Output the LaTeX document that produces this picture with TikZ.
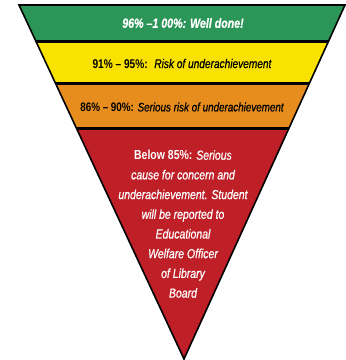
\documentclass[tikz,border=0pt]{standalone}
\usepackage{fontspec}
\newfontfamily\cond[FakeStretch=0.8,ItalicFeatures={FakeBold=0.6},BoldItalicFeatures={FakeBold=0.5}]{Liberation Sans}
\definecolor{bgreen}{RGB}{44,150,88}
\definecolor{byellow}{RGB}{250,226,0}
\definecolor{borange}{RGB}{230,141,30}
\definecolor{bred}{RGB}{191,32,40}
\tikzset{
  bandtext/.style={inner sep=0pt, anchor=center},
  redtext/.style={font=\cond\itshape\fontsize{13.1}{19.7}\selectfont, text=white, align=center, inner sep=0pt, anchor=north}
}
\begin{document}
\begin{tikzpicture}[x=1pt,y=-1pt]
\useasboundingbox (0,0) rectangle (346,360);
\coordinate (tl) at (19,5);
\coordinate (tr) at (345,5);
\coordinate (ap) at (184,359);
\begin{scope}
  \clip (tl) -- (tr) -- (ap) -- cycle;
  \fill[bgreen] (0,0) rectangle (346,41.5);
  \fill[byellow] (0,41.5) rectangle (346,83.5);
  \fill[borange] (0,83.5) rectangle (346,128.5);
  \fill[bred] (0,128.5) rectangle (346,360);
  \draw[line width=3pt] (0,41.5) -- (346,41.5);
  \draw[line width=3pt] (0,83.5) -- (346,83.5);
  \draw[line width=3pt] (0,128.5) -- (346,128.5);
\end{scope}
\draw[line width=1.6pt, line join=miter] (tl) -- (tr) -- (ap) -- cycle;
\node[bandtext, text=white, font=\cond\fontsize{13.3}{15}\selectfont] (g) at (183,23) {\bfseries\itshape 96\% –1 00\%: Well done!};
\node[bandtext, font=\cond\fontsize{12.66}{15}\selectfont] (y) at (182,63.5) {{\bfseries 91\% – 95\%:} \ {\itshape Risk of underachievement}};
\node[bandtext, font=\cond\fontsize{12.3}{15}\selectfont] (o) at (182,107) {{\bfseries 86\% – 90\%:} {\itshape Serious risk of underachievement}};
\node[redtext] (r) at (183,150) {{\upshape\bfseries Below 85\%:} Serious\\
cause for concern and\\
underachievement. Student\\
will be reported to\\
Educational\\
Welfare Officer\\
of Library\\
Board};
\end{tikzpicture}
\end{document}
